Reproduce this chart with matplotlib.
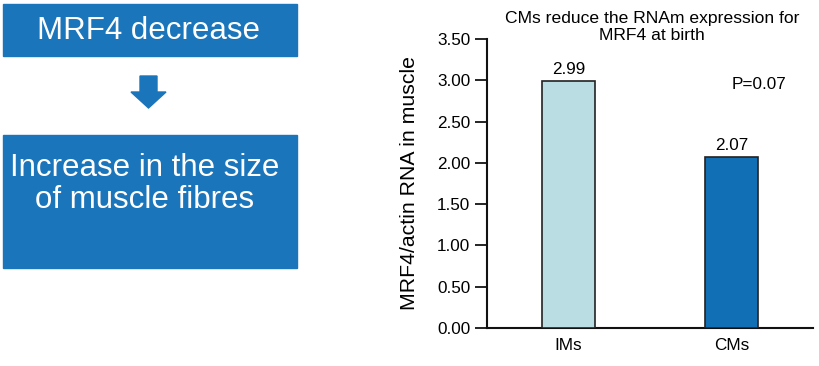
import matplotlib.pyplot as plt
from matplotlib.patches import Rectangle, FancyArrow

plt.rcParams['font.family'] = ['Liberation Sans', 'DejaVu Sans']

# data
groups = ['IMs', 'CMs']
values = [2.99, 2.07]
bar_colors = ['#b9dde2', '#1170b5']
yticks = [0.0, 0.5, 1.0, 1.5, 2.0, 2.5, 3.0, 3.5]
box_blue = '#1b75bb'

fig = plt.figure(figsize=(8.2, 3.66), dpi=100)

# left side diagram, drawn in pixel coordinates
bg = fig.add_axes([0, 0, 1, 1])
bg.set_xlim(0, 820)
bg.set_ylim(366, 0)
bg.axis('off')

bg.add_patch(Rectangle((3, 4), 294, 52, color=box_blue))
bg.text(149, 31, 'MRF4 decrease', color='white', fontsize=22.5,
        ha='center', va='center')

bg.add_patch(FancyArrow(148.5, 76, 0, 32, width=17, head_width=35,
                        head_length=16, length_includes_head=True,
                        color=box_blue))

bg.add_patch(Rectangle((3, 135), 294, 133, color=box_blue))
bg.text(145, 184, 'Increase in the size\nof muscle fibres', color='white',
        fontsize=22.5, ha='center', va='center', linespacing=1.1)

# bar chart
ax = fig.add_axes([487 / 820, 1 - 328 / 366, 326 / 820, 289 / 366])
x = range(len(groups))
ax.bar(x, values, width=0.32, color=bar_colors, edgecolor='#222222',
       linewidth=1.2, zorder=3)
for i, v in zip(x, values):
    ax.text(i, v + 0.05, f'{v:.2f}', ha='center', va='bottom', fontsize=12.3)

ax.set_xlim(-0.5, 1.5)
ax.set_ylim(0, 3.5)
ax.set_yticks(yticks)
ax.set_yticklabels([f'{t:.2f}' for t in yticks], fontsize=12.3)
ax.set_xticks(list(x))
ax.set_xticklabels(groups, fontsize=12.3)
ax.tick_params(axis='x', length=0, pad=7)
ax.tick_params(axis='y', length=9, width=1.2, pad=3)
for s in ['top', 'right']:
    ax.spines[s].set_visible(False)
for s in ['left', 'bottom']:
    ax.spines[s].set_linewidth(1.5)
    ax.spines[s].set_color('#111111')

ax.set_ylabel('MRF4/actin RNA in muscle', fontsize=15.3, labelpad=13)
ax.text(1.17, 2.95, 'P=0.07', ha='center', va='center', fontsize=12.3)
fig.text(652 / 820, 1 - 27 / 366,
         'CMs reduce the RNAm expression for\nMRF4 at birth',
         ha='center', va='center', fontsize=12.6, linespacing=1.25)

fig.savefig('out.png', dpi=100)
